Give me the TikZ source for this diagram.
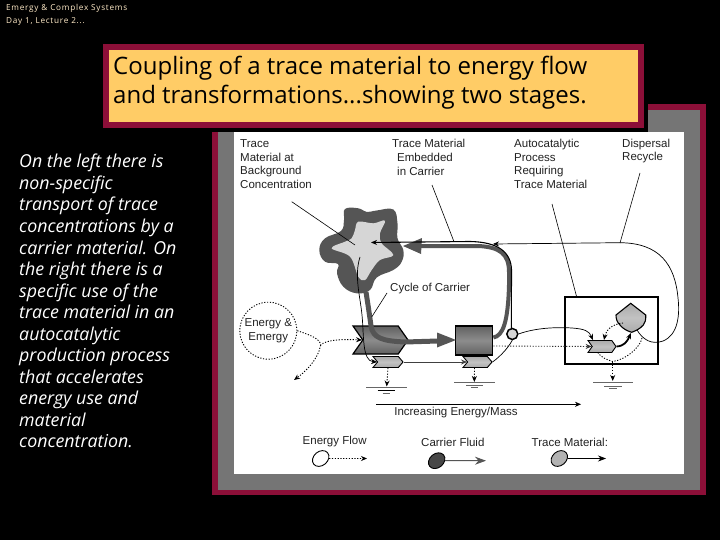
\documentclass[tikz,border=0pt]{standalone}
\usepackage{fontspec}
\usepackage{tikz}
\setmainfont{Liberation Sans}
\newfontfamily\slidefont{Open Sans}
\newfontfamily\headfont[LetterSpace=9]{Open Sans}
\usetikzlibrary{arrows.meta,%
                shapes.geometric,%
                shapes.symbols}
\definecolor{framered}{HTML}{8C0F38}
\definecolor{framegray}{HTML}{757575}
\definecolor{titlefill}{HTML}{FFCC66}
\definecolor{headcream}{HTML}{FFEBC8}
\definecolor{carrierdark}{HTML}{555555}
\definecolor{inkdark}{HTML}{222222}
\tikzset{%
	tip/.style = {-{Stealth[length=6pt,width=5pt]}},
	dotline/.style = {line width=0.9pt,dash pattern=on 1.2pt off 1.6pt},
	energyline/.style = {tip,dotline},
	traceline/.style = {tip,line width=0.7pt},
	carrierline/.style = {line width=5pt,color=carrierdark},
	leader/.style = {line width=0.6pt,color=black},
	groundline/.style = {line width=0.5pt,color=black!60},
	notchbox/.style = {shape=signal,signal to=east,signal from=west,draw=black,inner sep=0pt},
	darkfill/.style = {top color=black!62,bottom color=black!62,middle color=black!45},
	lightfill/.style = {top color=black!33,bottom color=black!33,middle color=black!24},
	label/.style = {font=\fontsize{11.5}{13.7}\selectfont,text=inkdark,inner sep=0pt,align=left},
	legendoval/.style = {shape=ellipse,draw=black,line width=0.9pt,inner sep=0pt,minimum width=18pt,minimum height=14pt,rotate=40}
}
\begin{document}
\begin{tikzpicture}[x=1pt,y=-1pt]
	\useasboundingbox (0,0) rectangle (720,540);
	\fill[black] (0,0) rectangle (720,540);
	% frames
	\fill[framered] (212,104) rectangle (706,495);
	\fill[framegray] (218,110) rectangle (700,490);
	\fill[black] (108,50) rectangle (648,132);
	\fill[white] (234,132) rectangle (684,474);
	\fill[framered] (103,44) rectangle (644,128.5);
	\fill[titlefill] (109,50) rectangle (638,122.5);
	% slide text
	\node[anchor=west,inner sep=0pt,text=headcream,font=\headfont\fontsize{8.2}{13}\selectfont,align=left] (head) at (6,14.5) {Emergy \& Complex Systems\\Day 1, Lecture 2...};
	\node[anchor=west,inner sep=0pt,font=\slidefont\fontsize{24}{29}\selectfont,align=left] (title) at (113,83) {Coupling of a trace material to energy flow\\and transformations...showing two stages.};
	\node[anchor=north west,inner sep=0pt,text=white,font=\slidefont\itshape\fontsize{17.8}{21.55}\selectfont,align=left] (story) at (19,154) {On the left there is\\non-specific\\transport of trace\\concentrations by a\\carrier material.  On\\the right there is a\\specific use of the\\trace material in an\\autocatalytic\\production process\\that accelerates\\energy use and\\material\\concentration.};
	% labels
	\node[label,anchor=west] (background) at (240,164) {Trace\\Material at\\Background\\Concentration};
	\node[label,anchor=west] (embedded) at (392,157.5) {Trace Material\\\hspace{5pt}Embedded\\\hspace{5pt}in Carrier};
	\node[label,anchor=west] (autocat) at (514,164) {Autocatalytic\\Process\\Requiring\\Trace Material};
	\node[label,anchor=west] (dispersal) at (622,151) {Dispersal\\Recycle};
	\node[label,anchor=west] (cycle) at (390,288.5) {Cycle of Carrier};
	\node[label,align=center] (increasing) at (456,413) {Increasing Energy/Mass};
	\node[label,anchor=west] (flowlabel) at (302.5,442) {Energy Flow};
	\node[label,anchor=west] (fluidlabel) at (421,442) {Carrier Fluid};
	\node[label,anchor=west] (tracelabel) at (531.5,442) {Trace Material:};
	% star of trace material
	\fill[carrierdark] plot[smooth cycle,tension=0.7] coordinates {(345,209) (358.3,208.3) (366.7,212) (376.7,210.5) (393.3,209.5) (397.5,223.3) (397.5,238.3) (403.3,250) (401.7,261.7) (393.3,270) (376.7,277.5) (370,290) (356.7,293.3) (343.3,286.7) (337,273.3) (338,264) (325,261.7) (319.3,250) (325,238.3) (341,231) (344,220)};
	\fill[black!16] plot[smooth cycle,tension=0.6] coordinates {(355,230) (358.3,221.7) (373.3,223.3) (385,220.7) (380,233.3) (381.7,243.3) (393.3,255) (380,260) (371.7,270) (365,280) (358.3,276.7) (350,256.7) (331.7,248.3) (345,241.7) (351.7,238.3)};
	\coordinate (starcore) at (371,242.5);
	\coordinate (starfoot) at (366,292);
	\coordinate (stardeep) at (360,257);
	% stages
	\node[notchbox,darkfill,line width=1.2pt,signal pointer angle=110,minimum width=55pt,minimum height=28pt] (stageone) at (380.5,340) {};
	\node[draw=black,line width=1.2pt,darkfill,inner sep=0pt,minimum width=37.5pt,minimum height=29pt] (stagetwo) at (474,340.5) {};
	\node[notchbox,lightfill,line width=0.9pt,signal pointer angle=100,minimum width=30pt,minimum height=11pt] (traceone) at (388,362) {};
	\node[notchbox,lightfill,line width=0.9pt,signal pointer angle=100,minimum width=29pt,minimum height=11pt] (tracetwo) at (477.5,362) {};
	\node[draw=black,line width=2pt,fill=white,inner sep=0pt,minimum width=93pt,minimum height=67pt] (catbox) at (611,330.5) {};
	\node[notchbox,lightfill,line width=0.9pt,signal pointer angle=110,minimum width=28pt,minimum height=12pt] (tracethree) at (602,346.5) {};
	\draw[lightfill,draw=black,line width=1.1pt] (630.7,303.3) -- (645.7,315) .. controls (646,320) and (645,323) .. (643.3,325) .. controls (640,329) and (635,331) .. (631.7,332.3) .. controls (627,331) and (622,328) .. (620,325) .. controls (617,322) and (616,319) .. (616,315) -- cycle;
	\coordinate (bulbtip) at (631,333);
	\coordinate (bulbleft) at (623,323);
	\coordinate (bulbright) at (637,330);
	\coordinate (bulbedge) at (642,338);
	\node[circle,draw=black,line width=1.5pt,fill=black!16,inner sep=0pt,minimum size=11pt] (tank) at (512.3,334) {};
	\node[circle,dotline,draw=black,inner sep=0pt,minimum size=57pt,align=center,font=\fontsize{11.5}{13.5}\selectfont,text=inkdark] (emergy) at (268.3,330.7) {Energy \&\\Emergy};
	% carrier cycle
	\coordinate (loopturn) at (509,285);
	\coordinate (loopjoin) at (418,246);
	\draw[carrierline,line width=4pt] (stagetwo.east) ++(0,-3) .. controls (503,336) and (508,322) .. (loopturn) -- (509,272) .. controls (509,254) and (500,247) .. (478,246) -- (loopjoin);
	\fill[carrierdark] (loopjoin) ++(4,-8) -- (403,246) -- (421,254) -- cycle;
	\draw[carrierline] (starfoot) .. controls (368,305) and (370,318) .. (371,326) .. controls (373,338) and (382,341) .. (405,342) -- (438,341);
	\fill[carrierdark] (437,332.5) -- (456,340) -- (437,347.5) -- cycle;
	% thin lines
	\draw[traceline,line width=1.1pt] (tank.north) ++(-1,0) -- (511.5,270) .. controls (511,252) and (498,242) .. (470,241.5) -- (starcore);
	\draw[traceline] (stardeep) .. controls (354,276) and (360,295) .. (362,315) .. controls (364,335) and (362,361) .. (traceone.west);
	\draw[traceline,line width=0.9pt,color=black!75] (traceone.east) -- (tracetwo.west);
	\draw[line width=0.7pt] (tracetwo.east) .. controls (498,358) and (507,350) .. (tank.south);
	\draw[traceline] (tank.east) .. controls (535,328) and (555,327) .. (572,328) .. controls (585,329) and (589,331) .. (593,340);
	\draw[tip,line width=1.8pt] (tracethree.east) .. controls (624,346) and (627,342) .. (bulbtip);
	\draw[energyline] (bulbleft) .. controls (612,324) and (606,330) .. (604,340);
	\draw[line width=0.7pt,-{Stealth[length=6pt,width=5pt]}] (bulbright) .. controls (643,340) and (652,345) .. (663,341) .. controls (678,335) and (680,315) .. (678,298) .. controls (675,265) and (660,243) .. (620,242.7) -- (493,244);
	\draw[dotline] (bulbedge) .. controls (640,348) and (625,360) .. (612.7,361.5) .. controls (607,360) and (601,357) .. (598,353);
	\draw[energyline,color=black!80] (stagetwo.east) ++(0,5.5) -- (tracethree.west);
	\draw[energyline] (emergy.east) .. controls (307,334) and (320,338) .. (320.7,345) .. controls (326,340) and (340,339) .. (stageone.west);
	\draw[energyline] (320.7,345) .. controls (318,360) and (305,372) .. (294,380);
	% ground
	\draw[energyline] (traceone.south) -- (386.7,386.5);
	\draw[energyline] (tracetwo.south) ++(-3,0) -- (474.3,382);
	\draw[energyline] (612.7,361.5) -- (612.7,381);
	\draw[groundline] (366,387.3) -- (406.7,387.3);
	\draw[line width=0.9pt] (377.7,390.3) -- (395,390.3);
	\draw[groundline] (382.7,393.3) -- (390,393.3);
	\draw[groundline] (454,382.3) -- (495,382.3);
	\draw[groundline] (466,385.3) -- (482.7,385.3);
	\draw[groundline] (470.7,387.7) -- (478,387.7);
	\draw[groundline] (593,382.3) -- (633,382.3);
	\draw[groundline] (604,386) -- (621.7,386);
	\draw[groundline] (609,388.3) -- (616.7,388.3);
	% leaders
	\coordinate (backgroundfoot) at (291.7,201.7);
	\coordinate (embeddedfoot) at (432,185);
	\coordinate (autocatfoot) at (552,204);
	\coordinate (dispersalfoot) at (640,173);
	\coordinate (cyclefoot) at (387,293);
	\draw[leader] (backgroundfoot) -- (355,245);
	\draw[leader] (embeddedfoot) -- (454,241.7);
	\draw[leader] (autocatfoot) -- (576.7,297);
	\draw[leader] (dispersalfoot) -- (620,243);
	\draw[leader] (cyclefoot) -- (371.7,317);
	% mass axis
	\coordinate (axisstart) at (376,404.3);
	\coordinate (axisend) at (581,404.3);
	\draw[tip,line width=0.5pt] (axisstart) -- (axisend);
	% legend
	\node[legendoval,fill=white] (flowoval) at (320.7,458.5) {};
	\node[legendoval,fill=black!72] (fluidoval) at (436.7,460.7) {};
	\node[legendoval,fill=black!30] (traceoval) at (559.3,458.5) {};
	\coordinate (flowend) at (367,458.5);
	\coordinate (fluidend) at (486,460.7);
	\coordinate (traceend) at (606,458.5);
	\draw[energyline] (flowoval) -- (flowend);
	\draw[line width=1pt,color=carrierdark,-{Stealth[length=11pt,width=8pt]}] (fluidoval) -- (fluidend);
	\draw[line width=0.7pt,-{Stealth[length=8pt,width=6pt]}] (traceoval) -- (traceend);
\end{tikzpicture}
\end{document}
